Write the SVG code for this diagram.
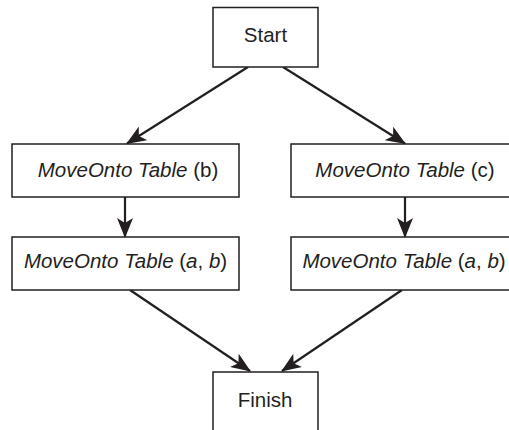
<svg xmlns="http://www.w3.org/2000/svg" width="509" height="430" viewBox="0 0 509 430">
<style>
.box{fill:#fff;stroke:#231f20;stroke-width:1.5}
.t{font-family:"Liberation Sans",Arial,sans-serif;font-size:20.5px;fill:#231f20;text-anchor:middle}
.i{font-style:italic}
.c{stroke:#231f20;stroke-width:2.2;fill:none;marker-end:url(#ah)}
</style>
<defs>
<marker id="ah" markerUnits="userSpaceOnUse" markerWidth="20" markerHeight="16" viewBox="0 0 20 16" refX="19" refY="8" orient="auto">
<path d="M0,0 L20,8 L0,16 L5,8 Z" fill="#231f20"/>
</marker>
</defs>
<rect width="509" height="430" fill="#fff"/>
<g id="connectors">
<line class="c" x1="248" y1="67" x2="127" y2="143.5"/>
<line class="c" x1="283" y1="67" x2="405" y2="143.5"/>
<line class="c" x1="125" y1="197" x2="125" y2="237"/>
<line class="c" x1="405" y1="197" x2="405" y2="237"/>
<line class="c" x1="130" y1="290" x2="250" y2="371"/>
<line class="c" x1="402" y1="290" x2="282" y2="371"/>
</g>
<g id="start">
<rect class="box" x="213" y="7.5" width="105" height="59.5"/>
<text class="t" x="265.5" y="42">Start</text>
</g>
<g id="moveB">
<rect class="box" x="12" y="144" width="227" height="53"/>
<text class="t" x="128" y="177"><tspan class="i">MoveOnto Table</tspan> (b)</text>
</g>
<g id="moveC">
<rect class="box" x="291" y="144" width="222" height="53"/>
<text class="t" x="405" y="177"><tspan class="i">MoveOnto Table</tspan> (c)</text>
</g>
<g id="moveAB1">
<rect class="box" x="12" y="237" width="227" height="53"/>
<text class="t" x="125.5" y="268"><tspan class="i">MoveOnto Table</tspan> (<tspan class="i">a</tspan>, <tspan class="i">b</tspan>)</text>
</g>
<g id="moveAB2">
<rect class="box" x="291" y="237" width="222" height="53"/>
<text class="t" x="404" y="268"><tspan class="i">MoveOnto Table</tspan> (<tspan class="i">a</tspan>, <tspan class="i">b</tspan>)</text>
</g>
<g id="finish">
<rect class="box" x="213" y="372" width="105" height="70"/>
<text class="t" x="265" y="407">Finish</text>
</g>
</svg>
